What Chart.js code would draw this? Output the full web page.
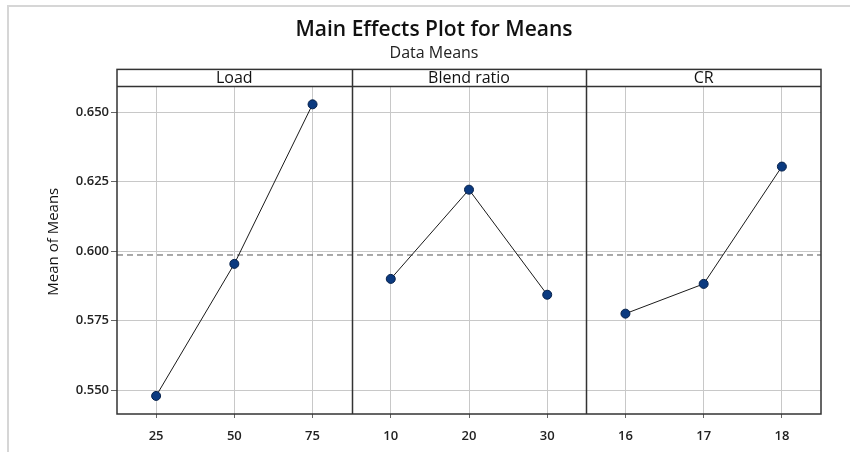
<!DOCTYPE html>
<html>
<head>
<meta charset="utf-8">
<script src="https://cdn.jsdelivr.net/npm/chart.js@4/dist/chart.umd.min.js"></script>
<style>
	body { margin: 0; background: #fff; }
	#wrap { position: relative; width: 850px; height: 452px; }
	#marco { position: absolute; left: 7px; top: 5px; right: 0; bottom: 0; border-left: 2px solid #d6d6d6; border-top: 2px solid #d6d6d6; pointer-events: none; }
</style>
</head>
<body>
<div id="wrap">
	<canvas id="grafica" width="850" height="452"></canvas>
	<div id="marco"></div>
</div>
<script>
// datos
var panels = ["Load", "Blend ratio", "CR"];
var loadLevels = ["25", "50", "75"];
var loadMeans = [0.5479, 0.5954, 0.6528];
var blendLevels = ["10", "20", "30"];
var blendMeans = [0.5900, 0.6221, 0.5843];
var crLevels = ["16", "17", "18"];
var crMeans = [0.5775, 0.5882, 0.6304];
var yTicks = [0.550, 0.575, 0.600, 0.625, 0.650];
var refMean = 0.5986;

var allLevels = loadLevels.concat(blendLevels, crLevels);

// cada panel ocupa 3 unidades en x, los niveles van en el centro de cada unidad
function puntosPanel(indice, medias)
{
	return medias.map(function (m, i) {
		return { x: indice * 3 + i + 0.5, y: m };
	});
}

var estiloSerie = {
	borderColor: "#1a1a1a",
	borderWidth: 1,
	pointRadius: 4.5,
	pointBackgroundColor: "#0b3a80",
	pointBorderColor: "#05204a",
	pointBorderWidth: 1,
	fill: false
};

var stripHeight = 17;

var panelesPlugin = {
	id: "paneles",
	beforeDatasetsDraw: function (chart) {
		var ctx = chart.ctx;
		var area = chart.chartArea;
		var xs = chart.scales.x;
		ctx.save();
		ctx.fillStyle = "#fff";
		ctx.fillRect(area.left, area.top, area.right - area.left, stripHeight);
		ctx.fillStyle = "#111";
		ctx.font = "16px 'Open Sans'";
		ctx.textAlign = "center";
		ctx.textBaseline = "middle";
		for (var i = 0; i < panels.length; i++) {
			var cx = (xs.getPixelForValue(i * 3) + xs.getPixelForValue(i * 3 + 3)) / 2;
			ctx.fillText(panels[i], cx, area.top + stripHeight / 2 + 1);
		}
		ctx.restore();
	},
	afterDraw: function (chart) {
		var ctx = chart.ctx;
		var area = chart.chartArea;
		var xs = chart.scales.x;
		ctx.save();
		ctx.strokeStyle = "#333";
		ctx.lineWidth = 1.5;
		ctx.strokeRect(area.left, area.top, area.right - area.left, area.bottom - area.top);
		ctx.beginPath();
		ctx.moveTo(area.left, area.top + stripHeight);
		ctx.lineTo(area.right, area.top + stripHeight);
		[3, 6].forEach(function (v) {
			var px = Math.round(xs.getPixelForValue(v)) + 0.5;
			ctx.moveTo(px, area.top);
			ctx.lineTo(px, area.bottom);
		});
		ctx.stroke();
		ctx.restore();
	}
};

var contexto = document.getElementById("grafica").getContext("2d");

new Chart(contexto, {
	type: "line",
	data: {
		datasets: [
			Object.assign({ label: "Load", data: puntosPanel(0, loadMeans) }, estiloSerie),
			Object.assign({ label: "Blend ratio", data: puntosPanel(1, blendMeans) }, estiloSerie),
			Object.assign({ label: "CR", data: puntosPanel(2, crMeans) }, estiloSerie),
			{
				label: "Media",
				data: [{ x: 0, y: refMean }, { x: 9, y: refMean }],
				borderColor: "#555",
				borderWidth: 1,
				borderDash: [6, 4],
				pointRadius: 0,
				fill: false
			}
		]
	},
	options: {
		responsive: false,
		animation: false,
		layout: {
			padding: { left: 47, right: 29, top: 17, bottom: 0 }
		},
		plugins: {
			legend: { display: false },
			tooltip: { enabled: false },
			title: {
				display: true,
				text: "Main Effects Plot for Means",
				color: "#111",
				font: { family: "'Open Sans'", size: 21, weight: "600" },
				padding: { top: 0, bottom: 0 }
			},
			subtitle: {
				display: true,
				text: "Data Means",
				color: "#222",
				font: { family: "'Open Sans'", size: 16 },
				padding: { top: 2, bottom: 6 }
			}
		},
		scales: {
			x: {
				type: "linear",
				min: 0,
				max: 9,
				afterBuildTicks: function (scale) {
					scale.ticks = allLevels.map(function (l, i) { return { value: i + 0.5 }; });
				},
				afterFit: function (scale) { scale.height = 38; },
				ticks: {
					autoSkip: false,
					maxRotation: 0,
					padding: 10,
					color: "#222",
					font: { family: "'Open Sans'", size: 13, weight: "600" },
					callback: function (v) { return allLevels[Math.round(v - 0.5)]; }
				},
				grid: { color: "#c8c8c8", tickColor: "#666", tickLength: 4 },
				border: { display: false }
			},
			y: {
				min: 0.5414,
				max: 0.66536,
				afterBuildTicks: function (scale) {
					scale.ticks = yTicks.map(function (v) { return { value: v }; });
				},
				afterFit: function (scale) { scale.width = 70; },
				ticks: {
					padding: 2,
					color: "#222",
					font: { family: "'Open Sans'", size: 13, weight: "600" },
					callback: function (v) { return v.toFixed(3); }
				},
				grid: { color: "#c8c8c8", tickColor: "#666", tickLength: 6 },
				border: { display: false },
				title: {
					display: true,
					text: "Mean of Means",
					color: "#111",
					font: { family: "'Open Sans'", size: 15 },
					padding: { top: -2, bottom: 0 }
				}
			}
		}
	},
	plugins: [panelesPlugin]
});
</script>
</body>
</html>
